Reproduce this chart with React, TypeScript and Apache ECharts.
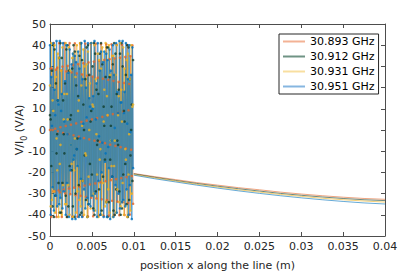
import React, { useEffect, useRef } from "react";
import * as echarts from "echarts";

const seriesNames = ["30.893 GHz", "30.912 GHz", "30.931 GHz", "30.951 GHz"];
const markerColors = ["#e3672b", "#0f3d2c", "#edb120", "#0072bd"];
const lineColors = ["#e3672b", "#2f6b55", "#edb120", "#0a78c8"];
const lineOpacity = [0.5, 0.18, 0.5, 0.7];
const lineWidths = [1, 1, 1, 1.4];
const legendColors = ["#f3b295", "#6f9384", "#f8dfa0", "#86b6e0"];

const sampleStep = 0.01 / 128;

const orange = [
  0, 29.0, -41.0, 29.0, 0, -29.0, 41.0, -29.0,
  0.6, 28.5, -41.0, 29.4, -0.6, -28.5, 41.0, -29.4,
  1.3, 28.1, -41.0, 29.9, -1.3, -28.1, 41.0, -29.9,
  1.9, 27.6, -41.0, 30.3, -1.9, -27.6, 41.0, -30.3,
  2.5, 27.2, -40.9, 30.7, -2.5, -27.2, 40.9, -30.7,
  3.1, 26.7, -40.9, 31.1, -3.1, -26.7, 40.9, -31.1,
  3.8, 26.2, -40.8, 31.5, -3.8, -26.2, 40.8, -31.5,
  4.4, 25.7, -40.8, 31.9, -4.4, -25.7, 40.8, -31.9,
  5.0, 25.2, -40.7, 32.3, -5.0, -25.2, 40.7, -32.3,
  5.6, 24.7, -40.6, 32.7, -5.6, -24.7, 40.6, -32.7,
  6.2, 24.2, -40.5, 33.1, -6.2, -24.2, 40.5, -33.1,
  6.9, 23.7, -40.4, 33.4, -6.9, -23.7, 40.4, -33.4,
  7.5, 23.2, -40.3, 33.8, -7.5, -23.2, 40.3, -33.8,
  8.1, 22.7, -40.2, 34.1, -8.1, -22.7, 40.2, -34.1,
  8.7, 22.2, -40.1, 34.5, -8.7, -22.2, 40.1, -34.5,
  9.3, 21.7, -39.9, 34.8, -9.3, -21.7, 39.9, -34.8,
];

const green = [
  7, 5, -17, 28, -36, 40, -41, 38,
  -31, 22, -11, -2, 14, -25, 34, -39,
  41, -39, 34, -25, 14, -2, -11, 22,
  -31, 38, -41, 40, -36, 28, -17, 5,
  7, -19, 29, -36, 40, -41, 37, -30,
  21, -9, -4, 16, -26, 35, -40, 41,
  -39, 33, -24, 12, 0, -12, 24, -33,
  39, -41, 40, -35, 26, -16, 4, 9,
  -21, 30, -37, 41, -40, 36, -29, 19,
  -7, -5, 17, -28, 36, -40, 41, -38,
  31, -22, 11, 2, -14, 25, -34, 39,
  -41, 39, -34, 25, -14, 2, 11, -22,
  31, -38, 41, -40, 36, -28, 17, -5,
  -7, 19, -29, 36, -40, 41, -37, 30,
  -21, 9, 4, -16, 26, -35, 40, -41,
  39, -33, 24, -12, 0, 12, -24, 33,
];

const yellow = [
  21, -36, 41, -33, 14, 9, -29, 40,
  -39, 25, -4, -19, 36, -41, 34, -16,
  -7, 28, -40, 39, -26, 5, 17, -35,
  41, -35, 17, 5, -26, 39, -40, 28,
  -7, -16, 34, -41, 36, -19, -4, 25,
  -39, 40, -29, 9, 14, -33, 41, -36,
  21, 2, -24, 38, -40, 30, -11, -12,
  31, -41, 37, -22, 0, 22, -37, 41,
  -31, 12, 11, -30, 40, -38, 24, -2,
  -21, 36, -41, 33, -14, -9, 29, -40,
  39, -25, 4, 19, -36, 41, -34, 16,
  7, -28, 40, -39, 26, -5, -17, 35,
  -41, 35, -17, -5, 26, -39, 40, -28,
  7, 16, -34, 41, -36, 19, 4, -25,
  39, -40, 29, -9, -14, 33, -41, 36,
  -21, -2, 24, -38, 40, -30, 11, 12,
];

const blue = [
  40, -40, 25, 2, -27, 41, -38, 19,
  7, -31, 42, -36, 14, 12, -35, 42,
  -32, 9, 17, -37, 41, -29, 4, 23,
  -40, 40, -25, -2, 27, -41, 38, -19,
  -7, 31, -42, 36, -14, -12, 35, -42,
  32, -9, -17, 37, -41, 29, -4, -23,
  41, -41, 24, 3, -28, 42, -37, 20,
  6, -32, 41, -35, 15, 11, -36, 41,
  -31, 10, 16, -38, 42, -30, 5, 22,
  -41, 41, -24, -3, 28, -40, 37, -20,
  -6, 32, -41, 37, -15, -11, 36, -41,
  33, -8, -18, 38, -42, 28, -5, -22,
  40, -41, 26, 1, -26, 41, -39, 18,
  8, -30, 42, -37, 13, 13, -34, 42,
  -33, 8, 18, -36, 41, -28, 3, 24,
  -40, 40, -26, -1, 26, -42, 39, -18,
];

const tailX = [0.01, 0.0125, 0.015, 0.0175, 0.02, 0.0225, 0.025, 0.0275, 0.03, 0.0325, 0.035, 0.0375, 0.04];
const tailOrange = [-20.5, -22.0, -23.4, -24.8, -26.0, -27.2, -28.2, -29.3, -30.2, -31.0, -31.7, -32.3, -32.7];
const tailGreen = [-20.7, -22.3, -23.8, -25.2, -26.5, -27.7, -28.8, -29.9, -30.8, -31.6, -32.3, -32.9, -33.3];
const tailYellow = [-21.0, -22.6, -24.1, -25.6, -26.9, -28.2, -29.3, -30.4, -31.3, -32.2, -32.9, -33.5, -34.0];
const tailBlue = [-21.3, -23.0, -24.5, -26.0, -27.4, -28.7, -29.9, -31.0, -32.0, -32.9, -33.7, -34.4, -34.9];

const oscData = [orange, green, yellow, blue];
const tailData = [tailOrange, tailGreen, tailYellow, tailBlue];

const FONT = "DejaVu Sans";
const TEXT = "#262626";
const AXIS = "#4d4d4d";

export default function App() {
  const ref = useRef<HTMLDivElement>(null);
  useEffect(() => {
    const chart = echarts.init(ref.current!, null, { renderer: "svg" });
    const lineSeries: any[] = [];
    const tailSeries: any[] = [];
    const markerSeries: any[] = [];
    oscData.forEach((vals, i) => {
      const pts = vals.map((v, k) => [k * sampleStep, v]);
      lineSeries.push({
        type: "line",
        name: seriesNames[i],
        data: pts,
        symbol: "none",
        showSymbol: false,
        lineStyle: { color: lineColors[i], width: lineWidths[i], opacity: lineOpacity[i] },
        itemStyle: { color: markerColors[i] },
        z: 2,
      });
      tailSeries.push({
        type: "line",
        name: seriesNames[i],
        data: tailX.map((x, j) => [x, tailData[i][j]]),
        symbol: "none",
        showSymbol: false,
        lineStyle: { color: markerColors[i], width: 1, opacity: 0.6 },
        itemStyle: { color: markerColors[i] },
        z: 2,
      });
      markerSeries.push({
        type: "scatter",
        name: seriesNames[i],
        data: pts,
        symbol: "circle",
        symbolSize: 2.6,
        itemStyle: { color: markerColors[i] },
        z: 3,
      });
    });

    const fmt = (v: number) => String(parseFloat(v.toFixed(4)));

    chart.setOption({
      animation: false,
      backgroundColor: "#fff",
      grid: { left: 50, right: 30, top: 24, bottom: 44, containLabel: false, outerBoundsMode: "none" },
      legend: {
        orient: "vertical",
        left: 279,
        top: 34,
        selectedMode: false,
        backgroundColor: "#fff",
        borderColor: "#262626",
        borderWidth: 1,
        padding: [1, 4, 1, 4],
        itemGap: 2,
        itemWidth: 22,
        itemHeight: 2,
        icon: "rect",
        textStyle: { fontFamily: FONT, fontSize: 11, color: "#000", lineHeight: 13 },
        data: seriesNames.map((n, i) => ({ name: n, icon: "rect", itemStyle: { color: legendColors[i] } })),
      },
      xAxis: [
        {
          type: "value",
          min: 0,
          max: 0.04,
          interval: 0.005,
          position: "bottom",
          axisLine: { show: true, onZero: false, lineStyle: { color: AXIS, width: 1 } },
          axisTick: { show: true, inside: true, length: 4, lineStyle: { color: AXIS } },
          axisLabel: { color: TEXT, fontFamily: FONT, fontSize: 11, margin: 5, formatter: fmt },
          splitLine: { show: false },
          name: "position x along the line (m)",
          nameLocation: "middle",
          nameGap: 24,
          nameMoveOverlap: false,
          nameTextStyle: { color: TEXT, fontFamily: FONT, fontSize: 11 },
        },
        {
          type: "value",
          min: 0,
          max: 0.04,
          interval: 0.005,
          position: "top",
          axisLine: { show: true, onZero: false, lineStyle: { color: AXIS, width: 1 } },
          axisTick: { show: true, inside: true, length: 4, lineStyle: { color: AXIS } },
          axisLabel: { show: false },
          splitLine: { show: false },
        },
      ],
      yAxis: [
        {
          type: "value",
          min: -50,
          max: 50,
          interval: 10,
          position: "left",
          axisLine: { show: true, onZero: false, lineStyle: { color: AXIS, width: 1 } },
          axisTick: { show: true, inside: true, length: 4, lineStyle: { color: AXIS } },
          axisLabel: { color: TEXT, fontFamily: FONT, fontSize: 11, margin: 4 },
          splitLine: { show: false },
          name: "V/I{sub|0} (V/A)",
          nameLocation: "middle",
          nameGap: 22,
          nameMoveOverlap: false,
          nameTextStyle: {
            color: TEXT,
            fontFamily: FONT,
            fontSize: 11,
            rich: {
              sub: { fontFamily: FONT, fontSize: 8, color: TEXT, verticalAlign: "bottom", lineHeight: 18 },
            },
          },
        },
        {
          type: "value",
          min: -50,
          max: 50,
          interval: 10,
          position: "right",
          axisLine: { show: true, onZero: false, lineStyle: { color: AXIS, width: 1 } },
          axisTick: { show: true, inside: true, length: 4, lineStyle: { color: AXIS } },
          axisLabel: { show: false },
          splitLine: { show: false },
        },
      ],
      series: [...lineSeries, ...tailSeries, ...markerSeries],
    });
    return () => chart.dispose();
  }, []);
  return (
    <div
      ref={ref}
      style={{ position: "absolute", left: 0, top: 0, width: 415, height: 280 }}
    />
  );
}
